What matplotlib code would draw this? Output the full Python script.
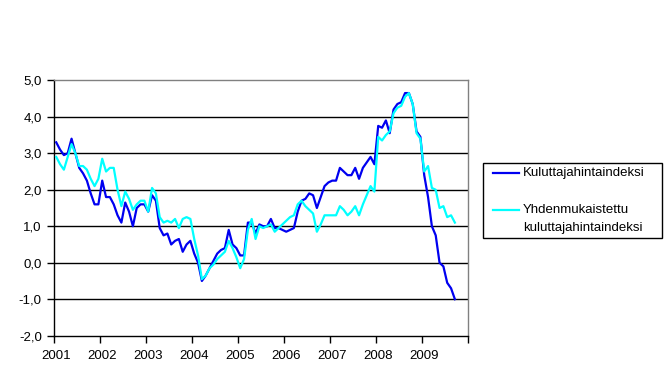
import matplotlib
matplotlib.use("Agg")
import matplotlib.pyplot as plt
from matplotlib.lines import Line2D
from matplotlib.patches import Rectangle
import numpy as np

plt.rcParams['font.family'] = ['Liberation Sans', 'DejaVu Sans']

years = ["2001", "2002", "2003", "2004", "2005", "2006", "2007", "2008", "2009"]

# kuluttajahintaindeksi, annual change %, Jan 2001 - Sep 2009
khi = [3.3, 3.1, 2.95, 3.0, 3.4, 3.0, 2.6, 2.45, 2.25, 1.9, 1.6, 1.6,
       2.25, 1.8, 1.8, 1.6, 1.3, 1.1, 1.65, 1.4, 1.0, 1.5, 1.6, 1.6,
       1.4, 1.85, 1.7, 0.95, 0.75, 0.8, 0.5, 0.6, 0.65, 0.3, 0.5, 0.6,
       0.25, 0.0, -0.5, -0.35, -0.15, 0.05, 0.25, 0.35, 0.4, 0.9, 0.5, 0.4,
       0.2, 0.2, 1.1, 1.1, 0.8, 1.05, 1.0, 1.0, 1.2, 0.95, 0.95, 0.9,
       0.85, 0.9, 0.95, 1.4, 1.7, 1.75, 1.9, 1.85, 1.5, 1.8, 2.1, 2.2,
       2.25, 2.25, 2.6, 2.5, 2.4, 2.4, 2.6, 2.3, 2.6, 2.75, 2.9, 2.7,
       3.75, 3.7, 3.9, 3.55, 4.2, 4.35, 4.4, 4.65, 4.65, 4.35, 3.6, 3.45,
       2.4, 1.8, 1.0, 0.75, 0.0, -0.1, -0.55, -0.7, -1.0]

# yhdenmukaistettu kuluttajahintaindeksi
yhki = [2.9, 2.7, 2.55, 2.9, 3.25, 3.0, 2.65, 2.65, 2.55, 2.3, 2.1, 2.3,
        2.85, 2.5, 2.6, 2.6, 2.0, 1.55, 1.95, 1.75, 1.45, 1.6, 1.7, 1.7,
        1.4, 2.05, 1.9, 1.25, 1.1, 1.15, 1.1, 1.2, 0.95, 1.2, 1.25, 1.2,
        0.65, 0.2, -0.45, -0.35, -0.15, -0.05, 0.1, 0.2, 0.3, 0.6, 0.4, 0.15,
        -0.15, 0.1, 0.9, 1.2, 0.65, 1.0, 0.95, 1.0, 1.05, 0.85, 0.95, 1.05,
        1.15, 1.25, 1.3, 1.6, 1.7, 1.55, 1.45, 1.35, 0.85, 1.05, 1.3, 1.3,
        1.3, 1.3, 1.55, 1.45, 1.3, 1.4, 1.55, 1.3, 1.6, 1.85, 2.1, 1.95,
        3.45, 3.35, 3.5, 3.6, 4.1, 4.25, 4.3, 4.55, 4.65, 4.35, 3.55, 3.4,
        2.5, 2.65, 2.05, 2.0, 1.5, 1.55, 1.25, 1.3, 1.1]

label_khi = "Kuluttajahintaindeksi"
label_yhki = "Yhdenmukaistettu\nkuluttajahintaindeksi"

blue = "#0000F0"
cyan = "#00FFFF"

W, H = 667, 381
fig = plt.figure(figsize=(W / 100, H / 100), dpi=100)
ax = fig.add_axes([54.3 / W, 1 - 335.7 / H, 414 / W, 255.4 / H])

x = np.arange(len(khi))
ax.plot(x, khi, color=blue, lw=1.6, zorder=3)
ax.plot(np.arange(len(yhki)), yhki, color=cyan, lw=1.6, zorder=3)

ax.set_xlim(-0.5, 107.5)
ax.set_ylim(-2, 5)

yt = np.arange(-2, 6)
ax.set_yticks(yt)
ax.set_yticklabels([f"{v:.1f}".replace(".", ",") for v in yt], fontsize=9.5)
for v in yt[1:-1]:
    ax.axhline(v, color="black", lw=1.0, zorder=1)

ax.set_xticks(np.arange(0, 109, 12) - 0.5)
ax.set_xticklabels([])
ax.set_xticks(np.arange(len(years)) * 12, minor=True)
ax.set_xticklabels(years, minor=True, fontsize=9.5)
ax.tick_params(axis="x", which="major", direction="out", length=5, width=1)
ax.tick_params(axis="x", which="minor", length=0, pad=10)
ax.tick_params(axis="y", direction="out", length=5, width=1, pad=4)

for s in ["left", "bottom"]:
    ax.spines[s].set_color("black")
    ax.spines[s].set_linewidth(1.0)
for s in ["top", "right"]:
    ax.spines[s].set_color("#808080")
    ax.spines[s].set_linewidth(1.0)

# legend box
fig.patches.append(Rectangle((482.7 / W, 1 - 238.3 / H), (661.7 - 482.7) / W, 75 / H,
                             transform=fig.transFigure, fill=False,
                             edgecolor="black", lw=1.0))
fig.lines.append(Line2D([492.7 / W, 519.3 / W], [1 - 173 / H] * 2,
                        transform=fig.transFigure, color=blue, lw=1.6))
fig.lines.append(Line2D([492.7 / W, 519.3 / W], [1 - 210 / H] * 2,
                        transform=fig.transFigure, color=cyan, lw=1.6))
fig.text(523 / W, 1 - 173 / H, label_khi, fontsize=9.5, va="center", ha="left")
fig.text(523 / W, 1 - 210 / H, label_yhki.split("\n")[0], fontsize=9.5, va="center", ha="left")
fig.text(523 / W, 1 - 228.5 / H, label_yhki.split("\n")[1], fontsize=9.5, va="center", ha="left")

fig.savefig("out.png", dpi=100)
plt.close(fig)
